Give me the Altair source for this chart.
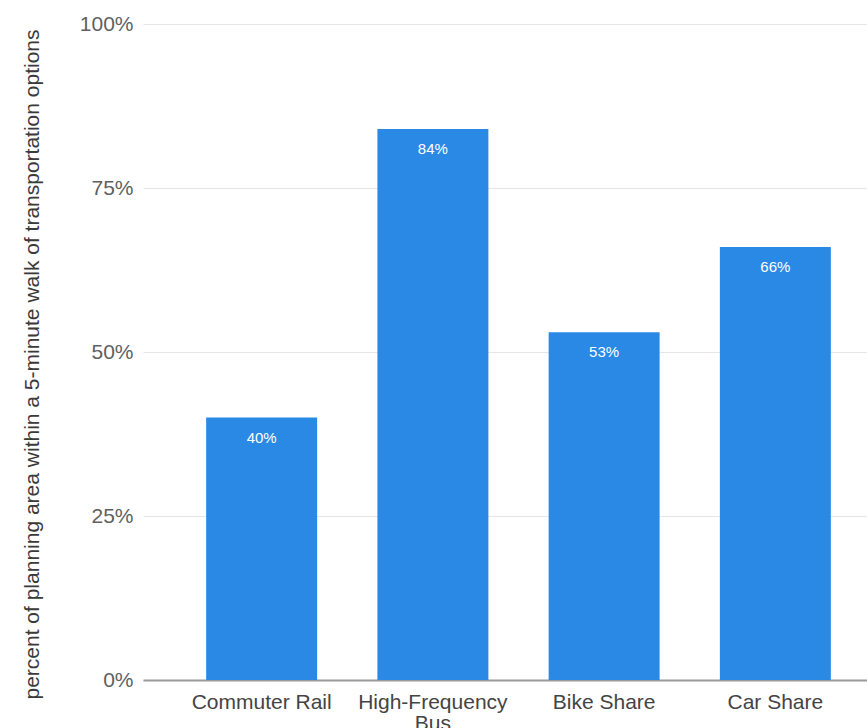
import altair as alt
import pandas as pd

categories = ["Commuter Rail", "High-Frequency Bus", "Bike Share", "Car Share"]
values = [0.40, 0.84, 0.53, 0.66]
labels = ["40%", "84%", "53%", "66%"]

df = pd.DataFrame({"cat": categories, "val": values, "lab": labels})

xscale = alt.Scale(paddingInner=0.352, paddingOuter=0.29, align=0.636)

x = alt.X(
    "cat:N",
    sort=categories,
    title=None,
    scale=xscale,
    axis=alt.Axis(
        labelAngle=0,
        labelFont="Liberation Sans",
        labelFontSize=21,
        labelColor="#444444",
        labelPadding=11,
        labelLineHeight=21,
        labelExpr="datum.label == 'High-Frequency Bus' ? ['High-Frequency', 'Bus'] : datum.label",
        ticks=False,
        domainColor="#9a9a9a",
        domainWidth=2,
        grid=False,
    ),
)

y = alt.Y(
    "val:Q",
    title="percent of planning area within a 5-minute walk of transportation options",
    scale=alt.Scale(domain=[0, 1], nice=False),
    axis=alt.Axis(
        values=[0, 0.25, 0.5, 0.75, 1.0],
        format=".0%",
        labelFont="Liberation Sans",
        labelFontSize=21,
        labelColor="#5f5f5f",
        labelPadding=10,
        ticks=False,
        domain=False,
        domainOpacity=0,
        gridColor="#e6e6e6",
        gridWidth=1,
        titleFont="Liberation Sans",
        titleFontSize=21,
        titleFontWeight="normal",
        titleColor="#3a3a3a",
        titleAlign="center",
        titleBaseline="alphabetic",
        titleX=-105,
        titleY=340,
    ),
)

bars = alt.Chart(df).mark_bar(color="#2a89e5").encode(x=x, y=y)

text = alt.Chart(df).mark_text(
    color="white", font="Liberation Sans", fontSize=15, baseline="middle", dy=20
).encode(x=x, y=y, text="lab:N")

chart = (
    alt.layer(bars, text)
    .properties(
        width=724,
        height=656,
        autosize=alt.AutoSizeParams(type="none"),
        padding={"left": 143, "top": 24, "right": 0, "bottom": 48},
        view=alt.ViewBackground(stroke="transparent", strokeWidth=0),
    )
    .configure_view(strokeWidth=0, stroke="transparent", strokeOpacity=0)
    .configure_axis(domainOpacity=1)
    .configure(background="white")
)

chart.save("out.html", embed_options={"renderer": "svg", "actions": False})
